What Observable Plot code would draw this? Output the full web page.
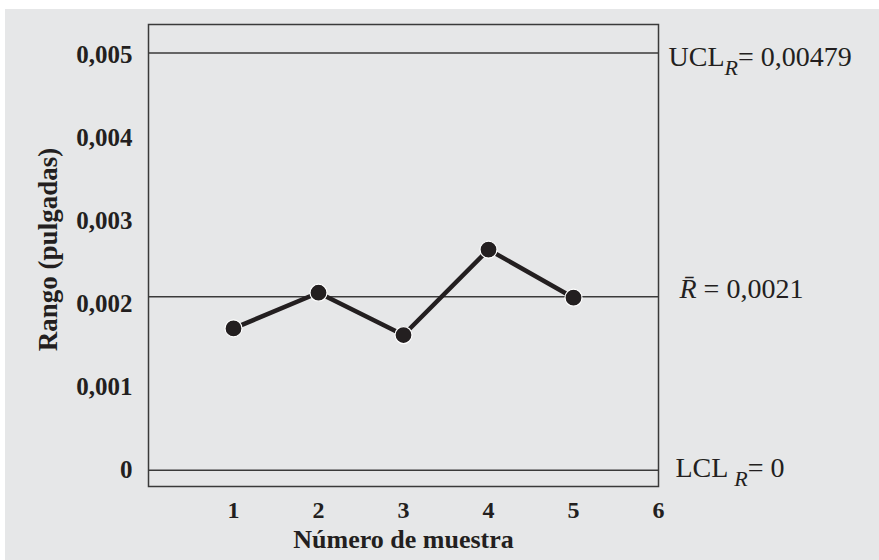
<!DOCTYPE html>
<html>
<head>
<meta charset="utf-8">
<script src="https://cdn.jsdelivr.net/npm/d3@7"></script>
<script src="https://cdn.jsdelivr.net/npm/@observablehq/plot@0.6"></script>
<style>
  html, body { margin: 0; padding: 0; background: #ffffff; }
  #wrap { position: relative; width: 879px; height: 560px; overflow: hidden; }
  #bg { position: absolute; left: 5px; top: 9px; right: 0; bottom: 0; background: #e6e7e8; }
  #chart { position: absolute; left: 0; top: 0; }
</style>
</head>
<body>
<div id="wrap"><div id="bg"></div><div id="chart"></div></div>
<script>
// ---- data ----
const samples = [1, 2, 3, 4, 5];
const ranges = [0.00171, 0.00214, 0.00163, 0.00266, 0.00208];
const lineNames = ["UCL", "Rbar", "LCL"];
const linePositions = [0.00503, 0.00209, 0];
const lineLabels = [["UCL", "R", "= 0,00479"], ["R\u0304", "", " = 0,0021"], ["LCL ", "R", "= 0"]];
const yTicks = [0, 0.001, 0.002, 0.003, 0.004, 0.005];
const xTicks = [1, 2, 3, 4, 5, 6];
const xTitle = "Número de muestra";
const yTitle = "Rango (pulgadas)";

const points = samples.map((s, i) => ({sample: s, range: ranges[i]}));
const lines = lineNames.map((n, i) => ({name: n, value: linePositions[i], parts: lineLabels[i]}));

const ink = "#231f20";
const fmt = d => d === 0 ? "0" : d.toFixed(3).replace(".", ",");

const chart = Plot.plot({
  width: 879,
  height: 560,
  marginLeft: 148,
  marginRight: 221,
  marginTop: 24,
  marginBottom: 74,
  style: {background: "transparent", fontFamily: "'Liberation Serif', serif", color: ink, overflow: "visible"},
  x: {domain: [0, 6]},
  y: {domain: [-0.000196, 0.0053735]},
  marks: [
    Plot.frame({stroke: "#3a3a3a", strokeWidth: 1.5}),
    Plot.ruleY(lines, {y: "value", x1: 0, x2: 6, stroke: "#3a3a3a", strokeWidth: 1.5}),
    Plot.axisY({ticks: yTicks, tickSize: 0, tickPadding: 16, tickFormat: fmt, label: null,
      fontSize: 25, fontWeight: "bold", fill: ink}),
    Plot.axisX({ticks: xTicks, tickSize: 0, tickPadding: 14, tickFormat: d => String(d), label: null,
      fontSize: 24, fontWeight: "bold", fill: ink}),
    Plot.line(points, {x: "sample", y: "range", stroke: ink, strokeWidth: 4.5}),
    Plot.dot(points, {x: "sample", y: "range", r: 8.5, fill: ink, stroke: "#ffffff", strokeWidth: 1.2}),
    Plot.text(lines, {x: 6, y: "value", text: "name", textAnchor: "start", dx: 12,
      fontSize: 28, fill: ink, className: "ctl-label"}),
    Plot.text([xTitle], {frameAnchor: "bottom", textAnchor: "middle", dy: 61, fontSize: 26, fontWeight: "bold", fill: ink}),
    Plot.text([yTitle], {frameAnchor: "left", textAnchor: "middle", rotate: -90, dx: -100, dy: -6, fontSize: 27, fontWeight: "bold", fill: ink})
  ]
});

document.getElementById("chart").appendChild(chart);

// build label contents with subscripts
const offsets = {UCL: [-2, -2], Rbar: [9, -14], LCL: [5, -8]};
d3.select(chart).selectAll("g.ctl-label text").each(function(_, i) {
  const L = lines[i];
  const [dxAdj, dyAdj] = offsets[L.name];
  const p = L.parts;
  const base = d3.select(this);
  base.text(null);
  base.attr("dy", null);
  const tr = base.attr("transform") || "";
  base.attr("transform", tr + ` translate(${dxAdj},${dyAdj})`);
  base.attr("dominant-baseline", "middle");
  if (L.name === "Rbar") {
    base.append("tspan").attr("font-style", "italic").text(p[0]);
    base.append("tspan").text(p[2]);
  } else {
    base.append("tspan").text(p[0]);
    base.append("tspan").attr("font-style", "italic").attr("font-size", 22).attr("dy", 10).text(p[1]);
    base.append("tspan").attr("dy", -10).text(p[2]);
  }
});
</script>
</body>
</html>
